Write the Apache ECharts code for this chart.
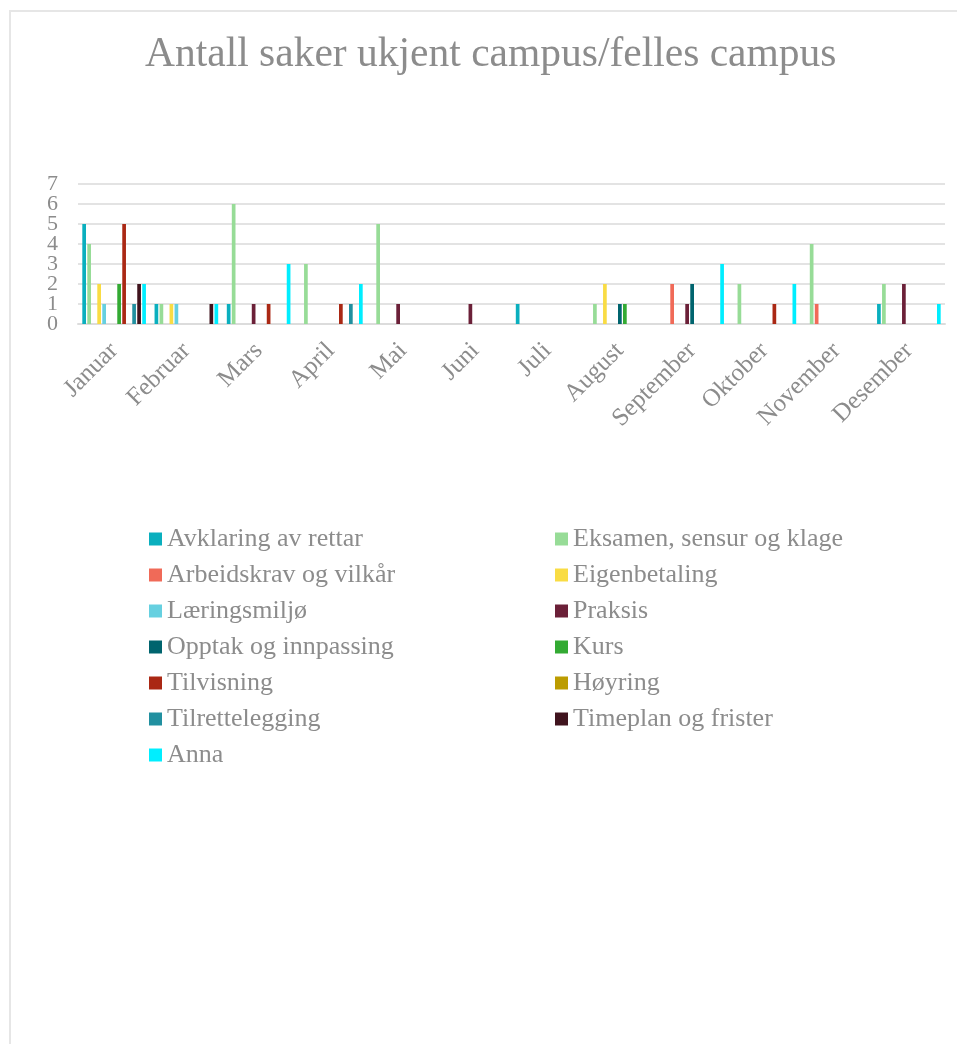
<!DOCTYPE html>
<html>
<head>
<meta charset="utf-8">
<script src="https://cdn.jsdelivr.net/npm/echarts@6/dist/echarts.min.js"></script>
<style>html,body{margin:0;padding:0;background:#fff}#c{width:957px;height:1044px}</style>
</head>
<body>
<div id="c"></div>
<script>
const categories = ['Januar','Februar','Mars','April','Mai','Juni','Juli','August','September','Oktober','November','Desember'];
const yTicksEven = [0,2,4,6];
const yTicksOdd = [1,3,5,7];

const avklaring       = [5,1,1,0,0,0,1,0,0,0,0,1];
const eksamen         = [4,1,6,3,5,0,0,1,0,2,4,2];
const arbeidskrav     = [0,0,0,0,0,0,0,0,2,0,1,0];
const eigenbetaling   = [2,1,0,0,0,0,0,2,0,0,0,0];
const laeringsmiljo   = [1,1,0,0,0,0,0,0,0,0,0,0];
const praksis         = [0,0,1,0,1,1,0,0,1,0,0,2];
const opptak          = [0,0,0,0,0,0,0,1,2,0,0,0];
const kurs            = [2,0,0,0,0,0,0,1,0,0,0,0];
const tilvisning      = [5,0,1,1,0,0,0,0,0,1,0,0];
const hoyring         = [0,0,0,0,0,0,0,0,0,0,0,0];
const tilrettelegging = [1,0,0,1,0,0,0,0,0,0,0,0];
const timeplan        = [2,1,0,0,0,0,0,0,0,0,0,0];
const anna            = [2,1,3,2,0,0,0,0,3,2,0,1];

const seriesNames = ['Avklaring av rettar','Eksamen, sensur og klage','Arbeidskrav og vilkår','Eigenbetaling','Læringsmiljø','Praksis','Opptak og innpassing','Kurs','Tilvisning','Høyring','Tilrettelegging','Timeplan og frister','Anna'];
const seriesData = [avklaring,eksamen,arbeidskrav,eigenbetaling,laeringsmiljo,praksis,opptak,kurs,tilvisning,hoyring,tilrettelegging,timeplan,anna];
const colors = ['#0AAFBE','#97DC97','#F06A58','#F9DC44','#66D0E0','#6B2038','#00646E','#33AA33','#AA2814','#BC9C00','#2190A0','#40141E','#00EEFF'];

const FONT = "'Liberation Serif', 'DejaVu Serif', serif";
const TXT = '#8c8c8c';

function yAxisFor(list, grid){
  return {type:'value', min:0, max:7, interval:1, position:'left',
    axisLine:{show:false}, axisTick:{show:false},
    splitLine:{show:grid, lineStyle:{color:'#e3e3e3', width:2}},
    axisLabel:{margin:20, fontFamily:FONT, fontSize:22, color:TXT, showMinLabel:true, showMaxLabel:true,
      formatter:function(v){return list.indexOf(v)>=0 ? String(v) : '';}}};
}

const chart = echarts.init(document.getElementById('c'), null, {renderer:'canvas'});
chart.setOption({
  animation:false,
  color: colors,
  graphic:[{type:'rect', shape:{x:10,y:11,width:980,height:1080}, style:{fill:'none', stroke:'#e6e6e6', lineWidth:2}, silent:true}],
  title:{text:'Antall saker ukjent campus/felles campus', left:140, top:29,
    textStyle:{fontFamily:FONT, fontSize:41.5, fontWeight:'normal', color:TXT}},
  grid:{left:78, right:12, top:184, bottom:720, containLabel:false},
  xAxis:{type:'category', data:categories,
    axisLine:{show:true, lineStyle:{color:'#dcdcdc', width:2}},
    axisTick:{show:false},
    axisLabel:{rotate:45, margin:23, fontFamily:FONT, fontSize:25, color:TXT, interval:0}},
  yAxis:[yAxisFor(yTicksEven, true), yAxisFor(yTicksOdd, false)],
  legend:[
    {orient:'vertical', left:144, top:521, itemWidth:13, itemHeight:13, icon:'rect', itemGap:10,
     textStyle:{fontFamily:FONT, fontSize:26, color:TXT, lineHeight:26},
     data:[seriesNames[0],seriesNames[2],seriesNames[4],seriesNames[6],seriesNames[8],seriesNames[10],seriesNames[12]]},
    {orient:'vertical', left:550, top:521, itemWidth:13, itemHeight:13, icon:'rect', itemGap:10,
     textStyle:{fontFamily:FONT, fontSize:26, color:TXT, lineHeight:26},
     data:[seriesNames[1],seriesNames[3],seriesNames[5],seriesNames[7],seriesNames[9],seriesNames[11]]}
  ],
  series: seriesNames.map(function(n,i){
    return {name:n, type:'bar', yAxisIndex:0, data:seriesData[i], barWidth:3.7, barGap:'35%'};
  })
});
</script>
</body>
</html>
